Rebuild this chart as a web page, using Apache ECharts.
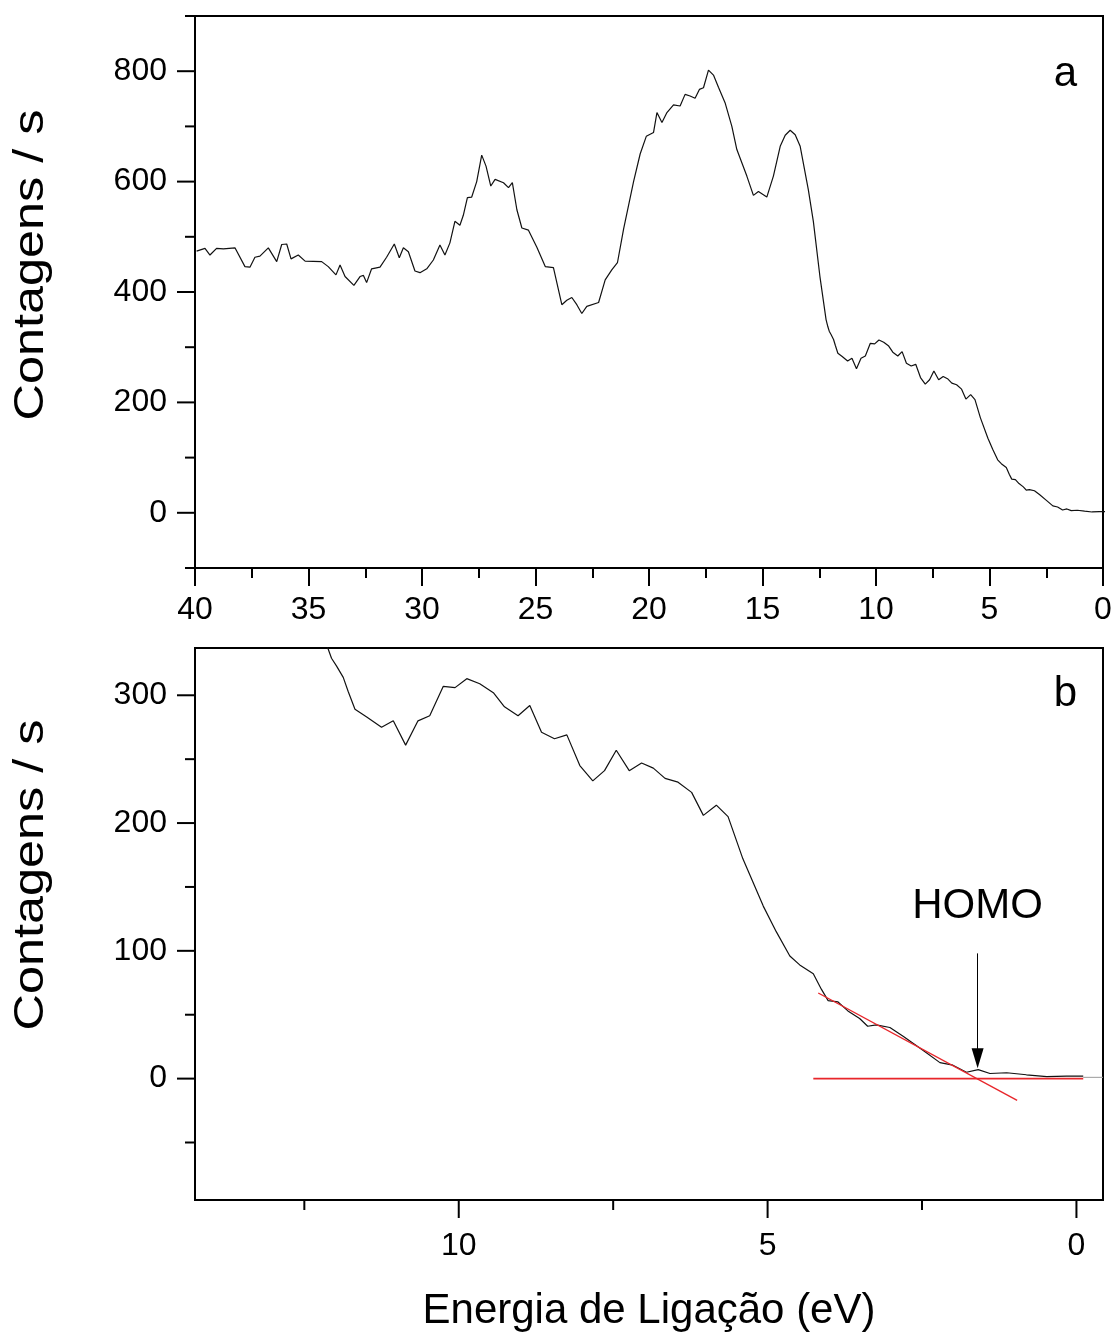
<!DOCTYPE html>
<html>
<head>
<meta charset="utf-8">
<script src="https://cdn.jsdelivr.net/npm/echarts@6/dist/echarts.min.js"></script>
<style>
  html, body { margin: 0; padding: 0; background: #fff; }
  #chart { width: 1118px; height: 1336px; }
</style>
</head>
<body>
<div id="chart"></div>
<script>
// UPS valence-band spectrum: binding energy (eV) and counts per second
const bindingEnergy = [
  39.93, 39.56, 39.34, 39.05, 38.75, 38.24, 37.80, 37.58, 37.36, 37.14,
  36.77, 36.40, 36.18, 35.96, 35.77, 35.45, 35.15, 34.42, 34.13, 33.79,
  33.61, 33.39, 33.00, 32.73, 32.58, 32.44, 32.22, 31.85, 31.56, 31.22,
  31.00, 30.82, 30.60, 30.31, 30.09, 29.79, 29.50, 29.21, 28.99, 28.77,
  28.55, 28.33, 28.18, 28.00, 27.81, 27.59, 27.37, 27.18, 26.97, 26.78,
  26.41, 26.19, 26.02, 25.82, 25.60, 25.31, 24.94, 24.57, 24.21, 23.84,
  23.62, 23.40, 23.18, 22.96, 22.74, 22.22, 21.93, 21.64, 21.39, 21.12,
  20.68, 20.39, 20.12, 19.80, 19.65, 19.43, 19.21, 18.92, 18.63, 18.41,
  18.19, 17.97, 17.78, 17.60, 17.38, 17.16, 16.94, 16.65, 16.35, 16.13,
  15.69, 15.40, 15.18, 14.81, 14.52, 14.22, 14.00, 13.78, 13.56, 13.34,
  12.98, 12.76, 12.47, 12.20, 12.12, 12.06, 11.98, 11.87, 11.79, 11.68,
  11.49, 11.25, 11.06, 10.86, 10.66, 10.47, 10.25, 10.06, 9.87, 9.66,
  9.44, 9.26, 9.04, 8.85, 8.66, 8.45, 8.25, 8.04, 7.83, 7.64,
  7.45, 7.24, 7.04, 6.85, 6.66, 6.45, 6.23, 6.04, 5.83, 5.64,
  5.40, 5.07, 4.86, 4.64, 4.48, 4.26, 4.13, 4.02, 3.86, 3.70,
  3.51, 3.38, 3.24, 3.02, 2.80, 2.48, 2.21, 2.00, 1.78, 1.59,
  1.40, 1.13, 0.81, 0.48, 0.16, -0.11
];
const counts = [
  474, 479, 467, 479, 478, 480, 446, 445, 463, 465,
  480, 455, 486, 487, 460, 467, 456, 455, 446, 431,
  449, 428, 412, 428, 430, 417, 442, 445, 463, 487,
  462, 480, 473, 438, 435, 442, 458, 485, 467, 489,
  528, 521, 539, 571, 572, 600, 648, 628, 592, 604,
  598, 589, 598, 549, 516, 512, 481, 446, 444, 377,
  385, 390, 377, 361, 374, 381, 422, 440, 453, 514,
  600, 650, 682, 689, 725, 707, 725, 739, 737, 758,
  755, 751, 767, 770, 802, 793, 771, 743, 700, 658,
  610, 575, 582, 572, 610, 664, 684, 693, 685, 664,
  585, 528, 428, 350, 337, 329, 323, 314, 303, 289,
  283, 275, 280, 261, 280, 284, 307, 306, 313, 309,
  302, 291, 284, 292, 271, 266, 269, 245, 233, 241,
  257, 241, 247, 243, 235, 232, 224, 206, 214, 205,
  172, 135, 115, 96, 89, 82, 70, 61, 60, 53,
  47, 41, 42, 40, 33, 22, 12.5, 10.5, 5, 7,
  4, 4.6, 3, 1.5, 2, 2
];

// Thin baseline continuing to the right edge of panel b
const trailEnergy = [-0.11, -0.43];
const trailCounts = [1, 1];

// Linear extrapolations used to locate the HOMO onset
const baselineEnergy = [4.26, -0.11];
const baselineCounts = [0, 0];
const edgeEnergy = [4.18, 0.96];
const edgeCounts = [67, -17];

// HOMO marker: arrow from label down to the onset
const homoEnergy = 1.6;
const homoArrowCounts = [98, 16];
const homoLabelCounts = 135;

// Axis ranges and tick values
const topXRange = [0, 40];
const topYRange = [-100, 900];
const botXRange = [-0.43, 14.27];
const botYRange = [-95, 337];
const topMajorY = [0, 200, 400, 600, 800];
const topMinorY = [-100, 100, 300, 500, 700, 900];
const botMajorY = [0, 100, 200, 300];
const botMinorY = [-50, 50, 150, 250];
const botMajorX = [0, 5, 10];
const botMinorX = [2.5, 7.5, 12.5];

const spectrum = bindingEnergy.map((e, i) => [e, counts[i]]);
const pairs = (xs, ys) => xs.map((x, i) => [x, ys[i]]);

const FONT = "'Liberation Sans', Arial, sans-serif";
const black = '#000';
const MAJOR_LEN = 18;
const MINOR_LEN = 10;
const TICK_W = 2;

// Axis carrying the axis line and the tick labels
function labelAxis(extra, labelExtra) {
  return Object.assign({
    type: 'value',
    axisLine: { show: true, onZero: false, lineStyle: { color: black, width: 2 } },
    axisTick: { show: false },
    splitLine: { show: false },
    axisLabel: Object.assign({ color: black, fontSize: 32, fontFamily: FONT }, labelExtra),
    nameTextStyle: { color: black, fontSize: 42, fontFamily: FONT }
  }, extra);
}

// Outward tick marks drawn as thin rectangles anchored on an axis edge
function xTicks(xAxisIndex, yAxisIndex, values, yEdge, len) {
  return {
    type: 'scatter', xAxisIndex, yAxisIndex, silent: true, clip: false, z: 5,
    data: values.map(v => [v, yEdge]),
    symbol: 'rect', symbolSize: [TICK_W, len], symbolOffset: [0, len / 2],
    itemStyle: { color: black, opacity: 1 }
  };
}
function yTicks(xAxisIndex, yAxisIndex, values, xEdge, len) {
  return {
    type: 'scatter', xAxisIndex, yAxisIndex, silent: true, clip: false, z: 5,
    data: values.map(v => [xEdge, v]),
    symbol: 'rect', symbolSize: [len, TICK_W], symbolOffset: [-len / 2, 0],
    itemStyle: { color: black, opacity: 1 }
  };
}

const chart = echarts.init(document.getElementById('chart'), null, { renderer: 'canvas' });

const titleStyle = { fontSize: 42, fontWeight: 'normal', color: black, fontFamily: FONT };

chart.setOption({
  animation: false,
  backgroundColor: '#fff',
  textStyle: { fontFamily: FONT },
  title: [
    { text: 'a', right: 36, top: 48, textStyle: titleStyle },
    { text: 'b', right: 36, top: 668, textStyle: titleStyle }
  ],
  grid: [
    { left: 195, top: 16, width: 908, height: 552, show: true, borderColor: black, borderWidth: 2, backgroundColor: 'transparent' },
    { left: 195, top: 648, width: 908, height: 552, show: true, borderColor: black, borderWidth: 2, backgroundColor: 'transparent' }
  ],
  xAxis: [
    // panel a: 40 → 0 eV
    {
      type: 'value', gridIndex: 0, position: 'bottom', min: topXRange[0], max: topXRange[1], interval: 5, inverse: true,
      axisLine: { show: true, onZero: false, lineStyle: { color: black, width: 2 } },
      axisTick: { show: true, inside: false, length: MAJOR_LEN, lineStyle: { color: black, width: TICK_W } },
      minorTick: { show: true, splitNumber: 2, length: MINOR_LEN, lineStyle: { color: black, width: TICK_W } },
      splitLine: { show: false },
      axisLabel: { color: black, fontSize: 32, fontFamily: FONT, margin: 26 }
    },
    // panel b: ~14.3 → 0 eV
    labelAxis({
      gridIndex: 1, position: 'bottom', min: botXRange[0], max: botXRange[1], inverse: true,
      name: 'Energia de Ligação (eV)', nameLocation: 'middle', nameGap: 90
    }, { margin: 30, customValues: botMajorX })
  ],
  yAxis: [
    labelAxis({ gridIndex: 0, position: 'left', min: topYRange[0], max: topYRange[1] }, { margin: 28, customValues: topMajorY }),
    labelAxis({ gridIndex: 1, position: 'left', min: botYRange[0], max: botYRange[1] }, { margin: 28, customValues: botMajorY })
  ],
  graphic: [
    // vertical axis titles, slightly stretched along the reading direction
    { type: 'text', x: 31, y: 265, rotation: Math.PI / 2, scaleX: 1.2,
      style: { text: 'Contagens / s', fill: black, font: '42px ' + FONT, align: 'center', verticalAlign: 'middle' } },
    { type: 'text', x: 31, y: 875, rotation: Math.PI / 2, scaleX: 1.2,
      style: { text: 'Contagens / s', fill: black, font: '42px ' + FONT, align: 'center', verticalAlign: 'middle' } }
  ],
  series: [
    {
      name: 'espectro-a', type: 'line', xAxisIndex: 0, yAxisIndex: 0,
      data: spectrum, showSymbol: false, symbol: 'none', clip: true,
      lineStyle: { color: '#111', width: 1.2 }
    },
    {
      name: 'espectro-b', type: 'line', xAxisIndex: 1, yAxisIndex: 1,
      data: spectrum, showSymbol: false, symbol: 'none', clip: true,
      lineStyle: { color: '#111', width: 1.2 }
    },
    {
      name: 'linha-final', type: 'line', xAxisIndex: 1, yAxisIndex: 1,
      data: pairs(trailEnergy, trailCounts), symbol: 'none', clip: true,
      lineStyle: { color: '#9a9a9a', width: 1 }
    },
    {
      name: 'linha-base', type: 'line', xAxisIndex: 1, yAxisIndex: 1,
      data: pairs(baselineEnergy, baselineCounts), symbol: 'none', clip: true,
      lineStyle: { color: '#e8262b', width: 1.6 }
    },
    {
      name: 'borda', type: 'line', xAxisIndex: 1, yAxisIndex: 1,
      data: pairs(edgeEnergy, edgeCounts), symbol: 'none', clip: true,
      lineStyle: { color: '#e8262b', width: 1.4 }
    },
    // tick marks of the count axes and of the panel b energy axis
    yTicks(0, 0, topMajorY, topXRange[1], MAJOR_LEN),
    yTicks(0, 0, topMinorY, topXRange[1], MINOR_LEN),
    yTicks(1, 1, botMajorY, botXRange[1], MAJOR_LEN),
    yTicks(1, 1, botMinorY, botXRange[1], MINOR_LEN),
    xTicks(1, 1, botMajorX, botYRange[0], MAJOR_LEN),
    xTicks(1, 1, botMinorX, botYRange[0], MINOR_LEN),
    {
      name: 'HOMO', type: 'scatter', xAxisIndex: 1, yAxisIndex: 1,
      data: [[homoEnergy, homoLabelCounts]], symbolSize: 0, silent: true,
      itemStyle: { opacity: 1 },
      label: { show: true, position: 'inside', formatter: 'HOMO', color: black, opacity: 1, fontSize: 42, fontFamily: FONT },
      markLine: {
        silent: true, animation: false,
        symbol: ['none', 'triangle'], symbolSize: [12, 20],
        label: { show: false },
        lineStyle: { color: black, width: 1, type: 'solid', opacity: 1 },
        itemStyle: { color: black, opacity: 1 },
        data: [[
          { coord: [homoEnergy, homoArrowCounts[0]] },
          { coord: [homoEnergy, homoArrowCounts[1]] }
        ]]
      }
    }
  ]
});
</script>
</body>
</html>
